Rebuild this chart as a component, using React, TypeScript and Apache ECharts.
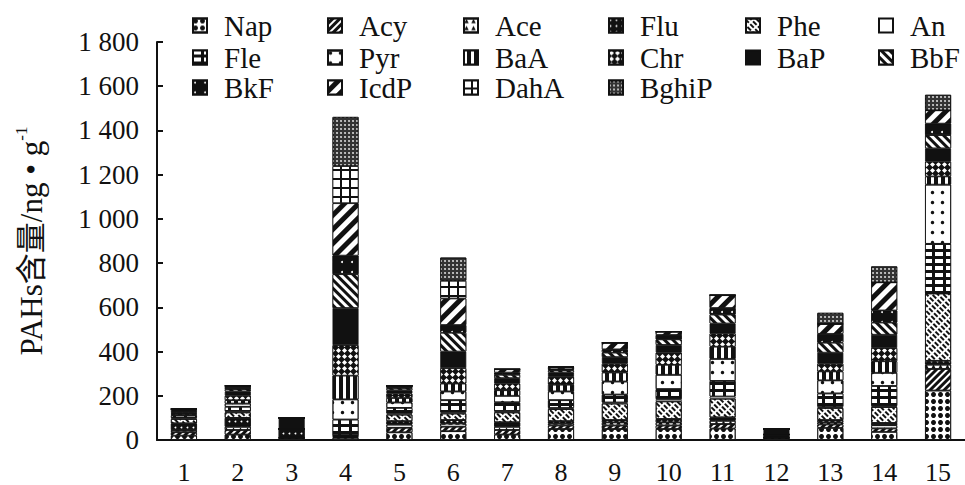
import React, { useEffect, useRef } from "react";
import * as echarts from "echarts";

const sites = ["1", "2", "3", "4", "5", "6", "7", "8", "9", "10", "11", "12", "13", "14", "15"];
const yTickLabels = ["0", "200", "400", "600", "800", "1 000", "1 200", "1 400", "1 600", "1 800"];

// PAH contents (ng/g) per site, stacked bottom-up in legend order
const Nap = [20, 25, 10, 10, 35, 40, 25, 50, 50, 50, 52, 10, 55, 37, 224];
const Acy = [15, 20, 0, 4, 20, 20, 20, 15, 15, 15, 20, 0, 15, 15, 97];
const Ace = [10, 15, 0, 3, 15, 15, 15, 10, 15, 15, 15, 0, 10, 15, 20];
const Flu = [30, 40, 40, 3, 15, 15, 20, 10, 10, 15, 15, 15, 10, 10, 17];
const Phe = [20, 25, 0, 3, 30, 30, 45, 55, 75, 80, 85, 0, 55, 72, 305];
const An = [5, 5, 0, 0, 5, 5, 5, 5, 5, 10, 10, 0, 5, 5, 0];
const Fle = [10, 20, 0, 69, 25, 55, 40, 35, 35, 45, 70, 0, 60, 90, 224];
const Pyr = [5, 15, 0, 92, 25, 40, 30, 40, 60, 65, 100, 0, 60, 60, 268];
const BaA = [5, 15, 0, 107, 20, 35, 25, 30, 40, 45, 55, 0, 40, 52, 37];
const Chr = [5, 20, 0, 138, 20, 70, 30, 35, 40, 55, 60, 0, 35, 60, 67];
const BaP = [15, 20, 50, 168, 15, 75, 25, 20, 30, 35, 45, 25, 50, 60, 60];
const BbF = [0, 10, 0, 153, 10, 85, 15, 10, 20, 25, 40, 0, 45, 55, 60];
const BkF = [0, 10, 0, 84, 10, 35, 10, 5, 15, 20, 30, 0, 40, 55, 52];
const IcdP = [0, 5, 0, 237, 0, 120, 15, 10, 30, 15, 58, 0, 45, 127, 60];
const DahA = [0, 0, 0, 168, 0, 80, 0, 0, 0, 0, 0, 0, 0, 0, 0];
const BghiP = [0, 0, 0, 222, 0, 105, 0, 0, 0, 0, 0, 0, 50, 72, 70];

const pahNames = ["Nap", "Acy", "Ace", "Flu", "Phe", "An", "Fle", "Pyr", "BaA", "Chr", "BaP", "BbF", "BkF", "IcdP", "DahA", "BghiP"];
const pahValues = [Nap, Acy, Ace, Flu, Phe, An, Fle, Pyr, BaA, Chr, BaP, BbF, BkF, IcdP, DahA, BghiP];

const K = "#111";
const W = "#fff";
const styles: Record<string, { color: string; decal?: any }> = {
  Nap: { color: W, decal: { symbol: "circle", symbolSize: 1, color: K, dashArrayX: [5, 2], dashArrayY: [5, 2] } },
  Acy: { color: K, decal: { symbol: "rect", symbolSize: 1, color: W, dashArrayX: [1, 0], dashArrayY: [2, 3], rotation: -Math.PI / 4 } },
  Ace: { color: W, decal: { symbol: "triangle", symbolSize: 0.9, color: K, dashArrayX: [5, 2], dashArrayY: [5, 2] } },
  Flu: { color: K, decal: { symbol: "circle", symbolSize: 0.6, color: W, dashArrayX: [3, 3], dashArrayY: [3, 3] } },
  Phe: { color: W, decal: { symbol: "rect", symbolSize: 1, color: K, dashArrayX: [5, 2], dashArrayY: [2, 2], rotation: Math.PI / 4 } },
  An: { color: W },
  Fle: { color: K, decal: { symbol: "rect", symbolSize: 1, color: W, dashArrayX: [8, 3], dashArrayY: [4, 3] } },
  Pyr: { color: W, decal: { symbol: "circle", symbolSize: 0.7, color: K, dashArrayX: [5, 5], dashArrayY: [5, 5] } },
  BaA: { color: K, decal: { symbol: "rect", symbolSize: 1, color: W, dashArrayX: [3, 4], dashArrayY: [1, 0] } },
  Chr: { color: K, decal: { symbol: "diamond", symbolSize: 1, color: W, dashArrayX: [5, 1], dashArrayY: [5, 1] } },
  BaP: { color: K },
  BbF: { color: K, decal: { symbol: "rect", symbolSize: 1, color: W, dashArrayX: [1, 0], dashArrayY: [3, 3], rotation: Math.PI / 4 } },
  BkF: { color: K, decal: { symbol: "circle", symbolSize: 0.5, color: W, dashArrayX: [4, 6], dashArrayY: [4, 6] } },
  IcdP: { color: K, decal: { symbol: "rect", symbolSize: 1, color: W, dashArrayX: [1, 0], dashArrayY: [5, 5], rotation: -Math.PI / 4 } },
  DahA: { color: K, decal: { symbol: "rect", symbolSize: 1, color: W, dashArrayX: [7, 2], dashArrayY: [7, 2] } },
  BghiP: { color: "#333", decal: { symbol: "circle", symbolSize: 0.8, color: W, dashArrayX: [2, 2], dashArrayY: [2, 2] } },
};

const FONT = "'Liberation Serif', 'Times New Roman', 'Noto Sans CJK SC', serif";
const legendCols = [192, 327, 463, 608, 745, 878];
const legendRows = [11, 43, 73];

export default function App() {
  const ref = useRef<HTMLDivElement>(null);
  useEffect(() => {
    if (!ref.current) return;
    const chart = echarts.init(ref.current, undefined, { renderer: "svg" });
    const series = pahNames.map((name, i) => ({
      name,
      type: "bar",
      stack: "total",
      barWidth: 26,
      data: pahValues[i],
      itemStyle: {
        color: styles[name].color,
        decal: styles[name].decal,
        borderColor: K,
        borderWidth: 0.8,
      },
    }));
    const legends = pahNames.map((name, i) => ({
      data: [name],
      left: legendCols[i % 6],
      top: legendRows[Math.floor(i / 6)],
      orient: "horizontal",
      icon: "rect",
      itemWidth: 14,
      itemHeight: 14,
      padding: 0,
      selectedMode: false,
      textStyle: { fontFamily: FONT, fontSize: 29, color: K, padding: [0, 0, 0, 12] },
    }));
    chart.setOption({
      animation: false,
      backgroundColor: "#fff",
      legend: legends,
      grid: { left: 157, top: 42, width: 816, bottom: 43, containLabel: false },
      xAxis: {
        type: "category",
        data: sites,
        axisLine: { lineStyle: { color: K, width: 2 } },
        axisTick: { inside: true, length: 5, lineStyle: { color: K, width: 2 } },
        axisLabel: { fontFamily: FONT, fontSize: 26, color: K, margin: 19 },
      },
      yAxis: {
        type: "value",
        min: 0,
        max: 1800,
        interval: 200,
        name: "{a|PAHs含量/ng • g}{b|-1}",
        nameLocation: "middle",
        nameGap: 110,
        nameTextStyle: {
          rich: {
            a: { fontFamily: FONT, fontSize: 31, color: K, lineHeight: 34, verticalAlign: "bottom" },
            b: { fontFamily: FONT, fontSize: 17, color: K, lineHeight: 34, verticalAlign: "top" },
          },
        },
        axisLine: { show: true, lineStyle: { color: K, width: 2 } },
        axisTick: { show: true, inside: true, length: 6, lineStyle: { color: K, width: 2 } },
        splitLine: { show: false },
        axisLabel: {
          fontFamily: FONT,
          fontSize: 27,
          color: K,
          margin: 18,
          formatter: (v: number) => yTickLabels[Math.round(v / 200)] ?? "",
        },
      },
      series,
    });
    return () => chart.dispose();
  }, []);
  return (
    <div
      ref={ref}
      style={{ position: "fixed", left: 0, top: 0, width: 965, height: 485, background: "#fff" }}
    />
  );
}
